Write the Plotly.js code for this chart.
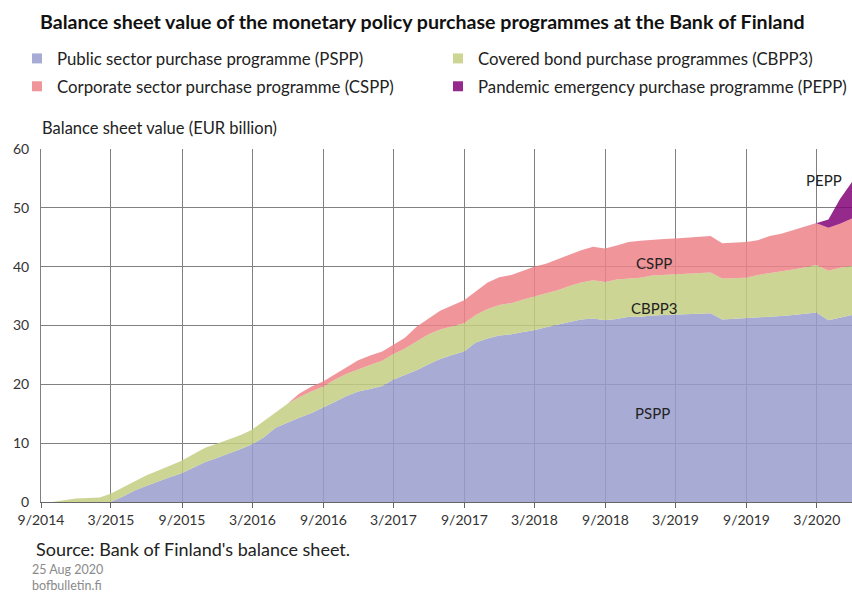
<!DOCTYPE html>
<html>
<head>
<meta charset="utf-8">
<script src="https://cdn.plot.ly/plotly-3.0.1.min.js"></script>
<style>
  html, body { margin: 0; padding: 0; background: #fff; }
  #chart { width: 852px; height: 593px; }
</style>
</head>
<body>
<div id="chart"></div>
<script>
// Month-end dates (Sep 2014 – May 2020)
const dates = [
  '2014-09-30','2014-10-31','2014-11-30','2014-12-31',
  '2015-01-31','2015-02-28','2015-03-31','2015-04-30','2015-05-31','2015-06-30',
  '2015-07-31','2015-08-31','2015-09-30','2015-10-31','2015-11-30','2015-12-31',
  '2016-01-31','2016-02-29','2016-03-31','2016-04-30','2016-05-31','2016-06-30',
  '2016-07-31','2016-08-31','2016-09-30','2016-10-31','2016-11-30','2016-12-31',
  '2017-01-31','2017-02-28','2017-03-31','2017-04-30','2017-05-31','2017-06-30',
  '2017-07-31','2017-08-31','2017-09-30','2017-10-31','2017-11-30','2017-12-31',
  '2018-01-31','2018-02-28','2018-03-31','2018-04-30','2018-05-31','2018-06-30',
  '2018-07-31','2018-08-31','2018-09-30','2018-10-31','2018-11-30','2018-12-31',
  '2019-01-31','2019-02-28','2019-03-31','2019-04-30','2019-05-31','2019-06-30',
  '2019-07-31','2019-08-31','2019-09-30','2019-10-31','2019-11-30','2019-12-31',
  '2020-01-31','2020-02-29','2020-03-31','2020-04-30','2020-05-31'
];

// Public sector purchase programme (EUR bn)
const pspp = [
  0, 0, 0, 0, 0, 0, 0.9, 1.9, 2.7, 3.5,
  4.2, 4.9, 5.8, 6.8, 7.5, 8.2, 9.0, 9.8, 11.0, 12.6,
  13.5, 14.3, 15.1, 16.0, 17.0, 18.0, 18.8, 19.2, 19.7, 20.8,
  21.6, 22.4, 23.4, 24.3, 25.0, 25.6, 27.1, 27.8, 28.3, 28.5,
  28.9, 29.2, 29.7, 30.2, 30.6, 31.0, 31.2, 30.9, 31.1, 31.5,
  31.5, 31.7, 31.8, 31.8, 31.9, 32.0, 32.1, 31.0, 31.1, 31.2,
  31.3, 31.5, 31.6, 31.8, 32.0, 32.2, 30.9, 31.4, 31.8
];

// Covered bond purchase programme 3 (EUR bn)
const cbpp3 = [
  0, 0.35, 0.6, 0.7, 0.75, 1.4, 1.5, 1.6, 1.8, 1.8,
  1.9, 2.1, 2.3, 2.4, 2.4, 2.4, 2.4, 2.5, 2.8, 2.7,
  3.2, 3.5, 3.7, 3.6, 3.8, 3.8, 3.8, 4.1, 4.3, 4.3,
  4.5, 4.9, 5.1, 5.0, 4.9, 4.8, 4.7, 5.0, 5.2, 5.3,
  5.5, 5.7, 5.7, 5.8, 6.1, 6.3, 6.5, 6.5, 6.7, 6.5,
  6.6, 6.8, 6.8, 6.9, 6.9, 6.9, 6.9, 7.0, 6.9, 6.9,
  7.3, 7.4, 7.5, 7.7, 7.9, 8.1, 8.4, 8.4, 8.3
];

// Corporate sector purchase programme (EUR bn)
const cspp = [
  0, 0, 0, 0, 0, 0, 0, 0, 0, 0,
  0, 0, 0, 0, 0, 0, 0, 0, 0, 0,
  0, 0.6, 0.8, 0.9, 0.9, 1.2, 1.5, 1.6, 1.6, 1.6,
  1.8, 2.5, 2.7, 3.2, 3.5, 3.9, 4.0, 4.5, 4.7, 4.8,
  4.9, 5.1, 5.1, 5.3, 5.3, 5.5, 5.7, 5.7, 5.8, 6.2,
  6.3, 6.1, 6.1, 6.1, 6.1, 6.1, 6.2, 6.0, 6.1, 6.1,
  5.9, 6.3, 6.5, 6.7, 6.9, 7.1, 7.3, 7.5, 8.1
];

// Pandemic emergency purchase programme (EUR bn)
const pepp = [
  0, 0, 0, 0, 0, 0, 0, 0, 0, 0,
  0, 0, 0, 0, 0, 0, 0, 0, 0, 0,
  0, 0, 0, 0, 0, 0, 0, 0, 0, 0,
  0, 0, 0, 0, 0, 0, 0, 0, 0, 0,
  0, 0, 0, 0, 0, 0, 0, 0, 0, 0,
  0, 0, 0, 0, 0, 0, 0, 0, 0, 0,
  0, 0, 0, 0, 0, 0, 1.4, 4.2, 6.2
];

const seriesNames = [
  'Public sector purchase programme (PSPP)',
  'Covered bond purchase programmes (CBPP3)',
  'Corporate sector purchase programme (CSPP)',
  'Pandemic emergency purchase programme (PEPP)'
];
const tickVals = ['2014-09-01','2015-03-01','2015-09-01','2016-03-01','2016-09-01','2017-03-01',
                  '2017-09-01','2018-03-01','2018-09-01','2019-03-01','2019-09-01','2020-03-01'];
const tickText = ['9/2014','3/2015','9/2015','3/2016','9/2016','3/2017',
                  '9/2017','3/2018','9/2018','3/2019','9/2019','3/2020'];

const FONT = 'Lato, "Open Sans", "Noto Sans", sans-serif';
const fills = ['rgba(153,156,204,0.85)','rgba(196,206,130,0.85)','rgba(237,130,136,0.85)','rgba(131,4,120,0.85)'];
const solid = ['#A8ABD4','#CDD595','#F0959A','#962A8C'];
const vals = [pspp, cbpp3, cspp, pepp];

const traces = [];
vals.forEach((v, i) => {
  traces.push({
    x: dates, y: v, type: 'scatter', mode: 'lines',
    stackgroup: 'one', line: {width: 0}, fillcolor: fills[i],
    name: seriesNames[i], showlegend: false, hoverinfo: 'skip'
  });
});
// legend-only entries (square symbols)
const legendIds = ['legend', 'legend2', 'legend', 'legend2'];
vals.forEach((v, i) => {
  traces.push({
    x: [null], y: [null], type: 'scatter', mode: 'markers',
    marker: {symbol: 'square', size: 10, color: solid[i]},
    name: seriesNames[i], legend: legendIds[i], legendgroup: 'g' + i,
    showlegend: true
  });
});

const labelFont = {family: FONT, size: 15, color: '#222'};
const legendFont = {family: FONT, size: 16.8, color: '#222'};
const layout = {
  width: 852, height: 593,
  margin: {l: 41, r: 0, t: 149, b: 91, autoexpand: false},
  paper_bgcolor: '#fff', plot_bgcolor: '#fff',
  font: {family: FONT, size: 14, color: '#333'},
  title: {
    text: '<b>Balance sheet value of the monetary policy purchase programmes at the Bank of Finland</b>',
    x: 40/852, xanchor: 'left', xref: 'container',
    y: 1 - 22/593, yanchor: 'middle', yref: 'container',
    font: {family: FONT, size: 19.6, color: '#111'}
  },
  showlegend: true,
  legend: {
    orientation: 'v', xref: 'container', yref: 'container',
    x: 17/852, xanchor: 'left', y: 1 - 41/593, yanchor: 'top',
    font: legendFont,
    bgcolor: 'rgba(0,0,0,0)', tracegroupgap: 3, traceorder: 'grouped'
  },
  legend2: {
    orientation: 'v', xref: 'container', yref: 'container',
    x: 438/852, xanchor: 'left', y: 1 - 41/593, yanchor: 'top',
    font: legendFont,
    bgcolor: 'rgba(0,0,0,0)', tracegroupgap: 3, traceorder: 'grouped'
  },
  xaxis: {
    type: 'date', range: ['2014-09-01', '2020-05-31'],
    tickvals: tickVals, ticktext: tickText, tickangle: 0,
    showgrid: true, gridcolor: '#808080', gridwidth: 1,
    ticks: 'outside', ticklen: 5, tickcolor: '#666',
    showline: true, linecolor: '#666', linewidth: 1,
    tickfont: {family: FONT, size: 14, color: '#333'},
    zeroline: false, fixedrange: true, automargin: false
  },
  yaxis: {
    range: [0, 60], tickvals: [0, 10, 20, 30, 40, 50, 60],
    showgrid: true, gridcolor: '#808080', gridwidth: 1,
    showline: true, linecolor: '#808080', linewidth: 1,
    ticks: '', ticklabelstandoff: 8,
    tickfont: {family: FONT, size: 14, color: '#333'},
    zeroline: false, fixedrange: true, automargin: false
  },
  annotations: [
    {text: 'Balance sheet value (EUR billion)', xref: 'paper', yref: 'paper',
     x: -1/811, y: (502 - 128)/353, xanchor: 'left', yanchor: 'middle', showarrow: false,
     font: {family: FONT, size: 16.5, color: '#222'}},
    {text: 'PEPP', xref: 'x', yref: 'y', x: '2020-03-19', y: 54.7, showarrow: false, font: labelFont},
    {text: 'CSPP', xref: 'x', yref: 'y', x: '2019-01-04', y: 40.6, showarrow: false, font: labelFont},
    {text: 'CBPP3', xref: 'x', yref: 'y', x: '2019-01-04', y: 33.0, showarrow: false, font: labelFont},
    {text: 'PSPP', xref: 'x', yref: 'y', x: '2019-01-01', y: 15.2, showarrow: false, font: labelFont},
    {text: "Source: Bank of Finland's balance sheet.", xref: 'paper', yref: 'paper',
     x: -7/811, y: (502 - 549)/353, xanchor: 'left', yanchor: 'middle', showarrow: false,
     font: {family: FONT, size: 18, color: '#222'}},
    {text: '25 Aug 2020', xref: 'paper', yref: 'paper',
     x: -11/811, y: (502 - 569)/353, xanchor: 'left', yanchor: 'middle', showarrow: false,
     font: {family: FONT, size: 12.5, color: '#8a8a8a'}},
    {text: 'bofbulletin.fi', xref: 'paper', yref: 'paper',
     x: -11/811, y: (502 - 585)/353, xanchor: 'left', yanchor: 'middle', showarrow: false,
     font: {family: FONT, size: 12.5, color: '#8a8a8a'}}
  ]
};

Plotly.newPlot('chart', traces, layout, {displayModeBar: false, staticPlot: true});
</script>
</body>
</html>
